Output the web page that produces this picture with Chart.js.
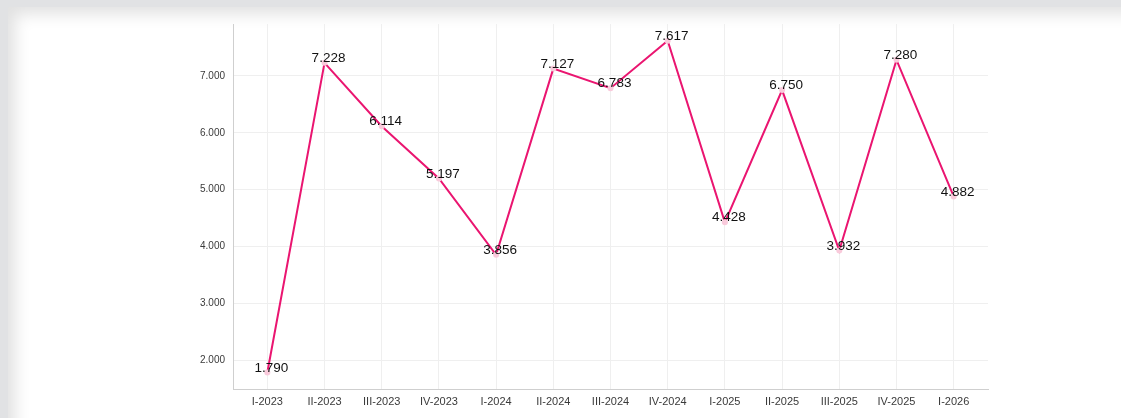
<!DOCTYPE html>
<html>
<head>
<meta charset="utf-8">
<script src="https://cdn.jsdelivr.net/npm/chart.js@4/dist/chart.umd.min.js"></script>
<style>
  html, body { margin: 0; padding: 0; width: 1121px; height: 418px; overflow: hidden; background: #fff; }
  #frame { position: absolute; left: 0; top: 0; width: 1300px; height: 600px; box-sizing: border-box;
           border-top: 7px solid #e1e2e4; border-left: 8px solid #e1e2e4;
           box-shadow: inset 7px 7px 16px rgba(0,0,0,0.12); }
  #wrap { position: absolute; left: 0; top: 0; width: 1121px; height: 418px; }
</style>
</head>
<body>
<div id="frame"></div>
<div id="wrap"><canvas id="c" width="1121" height="418"></canvas></div>
<script>
const categories = ['I-2023','II-2023','III-2023','IV-2023','I-2024','II-2024','III-2024','IV-2024','I-2025','II-2025','III-2025','IV-2025','I-2026'];
const values = [1790, 7228, 6114, 5197, 3856, 7127, 6783, 7617, 4428, 6750, 3932, 7280, 4882];
const yTicks = [2000, 3000, 4000, 5000, 6000, 7000];

function fmt(v) {
  return String(Math.round(v)).replace(/\B(?=(\d{3})+(?!\d))/g, '.');
}

const labelPlugin = {
  id: 'valueLabels',
  afterDatasetsDraw(chart) {
    const ctx = chart.ctx;
    const meta = chart.getDatasetMeta(0);
    ctx.save();
    ctx.font = '13.5px "Liberation Sans", Arial, sans-serif';
    ctx.fillStyle = '#111';
    ctx.textAlign = 'center';
    ctx.textBaseline = 'middle';
    meta.data.forEach((pt, i) => {
      ctx.fillText(fmt(values[i]), pt.x + 4, pt.y - 4.5);
    });
    ctx.restore();
  }
};

new Chart(document.getElementById('c'), {
  type: 'line',
  data: {
    datasets: [{
      data: values.map((v, i) => ({ x: i, y: v })),
      borderColor: '#ea1570',
      borderWidth: 2,
      pointRadius: 3,
      pointBackgroundColor: '#f9cadb',
      pointBorderWidth: 0,
      tension: 0,
      fill: false
    }]
  },
  options: {
    responsive: false,
    animation: false,
    layout: { padding: { left: 0, right: 133, top: 24, bottom: 0 } },
    plugins: { legend: { display: false }, tooltip: { enabled: false } },
    scales: {
      x: {
        type: 'linear',
        min: -0.6,
        max: 12.6,
        afterBuildTicks(scale) { scale.ticks = categories.map((c, i) => ({ value: i })); },
        afterFit(scale) { scale.height = 29; },
        ticks: {
          autoSkip: false,
          maxRotation: 0,
          padding: 6,
          color: '#3a3a3a',
          font: { family: '"Liberation Sans", Arial, sans-serif', size: 11 },
          callback: (v) => categories[Math.round(v)] ?? ''
        },
        grid: { color: '#efefef', drawTicks: false },
        border: { color: '#cfcfcf', width: 1 }
      },
      y: {
        type: 'linear',
        min: 1500,
        max: 7910,
        afterBuildTicks(scale) { scale.ticks = yTicks.map(v => ({ value: v })); },
        afterFit(scale) { scale.width = 233; },
        ticks: {
          padding: 8,
          color: '#3a3a3a',
          font: { family: '"Liberation Sans", Arial, sans-serif', size: 10 },
          callback: (v) => fmt(v)
        },
        grid: { color: '#efefef', drawTicks: false },
        border: { color: '#cfcfcf', width: 1 }
      }
    }
  },
  plugins: [labelPlugin]
});
</script>
</body>
</html>
